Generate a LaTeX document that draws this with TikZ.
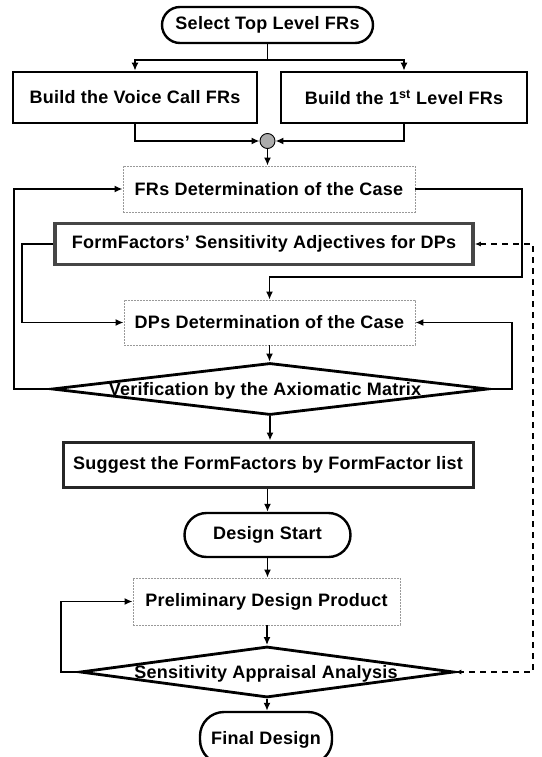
\documentclass[tikz,border=0pt]{standalone}
\usepackage{fontspec}
\setmainfont{Liberation Sans}
\usetikzlibrary{arrows.meta,shapes.geometric}

\tikzset{
  lbl/.style={font=\fontsize{18}{21}\selectfont\bfseries\addfontfeature{LetterSpace=1.5}, inner sep=0pt},
  solidbox/.style={draw=black, line width=2.6pt, rectangle, inner sep=0pt, fill=white},
  greybox/.style={draw=gray!55!black, line width=3.6pt, rectangle, inner sep=0pt, fill=white},
  dotbox/.style={draw=gray!80, line width=0.9pt, dash pattern=on 1.6pt off 1.4pt, rectangle, inner sep=0pt, fill=white},
  terminal/.style={draw=black, line width=2.4pt, rectangle, inner sep=0pt, fill=white},
  decision/.style={draw=black, line width=2.8pt, diamond, inner sep=0pt, fill=white},
  flow/.style={line width=1.9pt, -{Latex[length=8pt,width=7pt]}},
  plain/.style={line width=1.9pt},
  feedback/.style={line width=1.4pt, dash pattern=on 6pt off 5pt,
    {Latex[open,length=6pt,width=5pt]}-{Latex[open,length=6pt,width=5pt]}},
}

\begin{document}
\begin{tikzpicture}[x=1pt,y=-1pt]
\clip (0,0) rectangle (541,757);
\fill[white] (0,0) rectangle (541,757);

% top of the chart
\node[terminal, rounded corners=18pt, minimum width=211pt, minimum height=36pt] (top) at (267.5,25) {};
\node[lbl] (toptxt) at (top.center) {Select Top Level FRs};

\node[solidbox, minimum width=244pt, minimum height=51pt] (voice) at (135,97.5) {};
\node[lbl] (voicetxt) at (voice.center) {Build the Voice Call FRs};
\node[solidbox, minimum width=246pt, minimum height=51pt] (first) at (404,97.5) {};
\node[lbl] (firsttxt) at (first.center) {Build the 1\textsuperscript{st} Level FRs};

\coordinate (br) at (267.5,60);
\draw[plain] (top.south) -- (br);
\draw[flow] (br) -| (voice.north);
\draw[flow] (br) -| (first.north);

% merge point
\node[circle, draw=black, line width=0.9pt, fill=gray!65, minimum size=15pt, inner sep=0pt] (junc) at (267.5,141) {};
\draw[flow] (voice.south) |- (junc.west);
\draw[flow] (first.south) |- (junc.east);

% FR / DP determination loop
\node[dotbox, minimum width=292pt, minimum height=46pt] (frs) at (269,189) {};
\node[lbl] (frstxt) at (frs.center) {FRs Determination of the Case};
\draw[flow] (junc.south) -- (junc.south |- frs.north);

\node[greybox, minimum width=418pt, minimum height=41pt] (ff) at (264,244) {};
\node[lbl] (fftxt) at (ff.center) {FormFactors’ Sensitivity Adjectives for DPs};

\node[dotbox, minimum width=291pt, minimum height=45pt] (dps) at (269.5,322.5) {};
\node[lbl] (dpstxt) at (dps.center) {DPs Determination of the Case};

\coordinate (rturn) at (522,277);
\draw[flow] (frs.east) -| (rturn) -| (dps.north);

\coordinate (lff) at (22,322.5);
\draw[flow] (ff.west) -| (lff) -- (dps.west);

\node[decision, minimum width=436pt, minimum height=52pt] (ver) at (270,389) {};
\node[lbl] (vertxt) at (265,391) {Verification by the Axiomatic Matrix};
\draw[flow] (dps.south) -- (dps.south |- ver.north);

\coordinate (lout) at (14,389);
\draw[flow] (ver.west) -- (lout) |- (frs.west);
\coordinate (rout) at (512,389);
\draw[flow] (ver.east) -- (rout) |- (dps.east);

\node[solidbox, line width=3pt, draw=black!85, minimum width=410pt, minimum height=45pt] (sug) at (268,464.5) {};
\node[lbl] (sugtxt) at (sug.center) {Suggest the FormFactors by FormFactor list};
\draw[flow] (ver.south) -- (ver.south |- sug.north);

% design stage
\node[terminal, rounded corners=22pt, minimum width=166pt, minimum height=44pt] (ds) at (267.5,535) {};
\node[lbl] (dstxt) at (ds.center) {Design Start};
\draw[flow] (sug.south -| ds.north) -- (ds.north);

\node[dotbox, minimum width=267pt, minimum height=47pt] (pre) at (266.5,601.5) {};
\node[lbl] (pretxt) at (pre.center) {Preliminary Design Product};
\draw[flow] (ds.south) -- (ds.south |- pre.north);

\node[decision, minimum width=374pt, minimum height=51pt] (sen) at (267,672) {};
\node[lbl] (sentxt) at (266,674) {Sensitivity Appraisal Analysis};
\draw[flow] (pre.south -| sen.north) -- (sen.north);

\coordinate (lsen) at (61,672);
\draw[flow] (sen.west) -- (lsen) |- (pre.west);

\coordinate (dbot) at (533,672);
\draw[feedback] (ff.east) -| (dbot) -- (sen.east);

\node[terminal, rounded corners=24pt, minimum width=132pt, minimum height=52pt] (fin) at (266,738) {};
\node[lbl] (fintxt) at (266,740) {Final Design};
\draw[flow] (sen.south) -- (sen.south |- fin.north);
\end{tikzpicture}
\end{document}
